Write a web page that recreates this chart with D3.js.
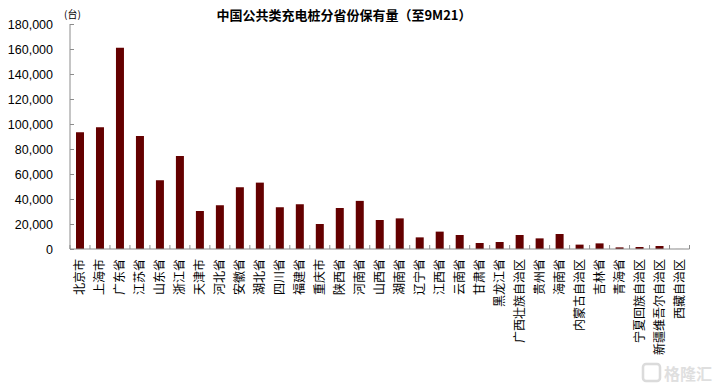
<!DOCTYPE html>
<html><head><meta charset="utf-8">
<script src="https://cdn.jsdelivr.net/npm/d3@7"></script>
<style>
html,body{margin:0;padding:0;background:#fff;}
svg{display:block;}
</style></head>
<body>
<script>
const categories = ["北京市","上海市","广东省","江苏省","山东省","浙江省","天津市","河北省","安徽省","湖北省","四川省","福建省","重庆市","陕西省","河南省","山西省","湖南省","辽宁省","江西省","云南省","甘肃省","黑龙江省","广西壮族自治区","贵州省","海南省","内蒙古自治区","吉林省","青海省","宁夏回族自治区","新疆维吾尔自治区","西藏自治区"];
const values = [93400,97400,161000,90400,55000,74400,30400,35000,49400,53100,33400,35800,20000,32800,38500,23200,24500,9300,13900,11200,4800,5600,11200,8500,12000,3500,4500,1300,1600,2400,30];
const yTicks = [0,20000,40000,60000,80000,100000,120000,140000,160000,180000];
const title = "中国公共类充电桩分省份保有量（至9M21）";
const unit = "(台)";

const W = 717, H = 392;
const svg = d3.select("body").append("svg").attr("width", W).attr("height", H);
const cjk = "'Noto Sans CJK SC','Microsoft YaHei',sans-serif";
const num = "'Liberation Sans',Arial,sans-serif";

const x = d3.scaleBand().domain(categories).range([70, 689.5]).paddingInner(0.6).paddingOuter(0.3);
const y = d3.scaleLinear().domain([0, 180000]).range([249, 24]);

// bars
svg.append("g").selectAll("rect").data(values).join("rect")
  .attr("x", (d,i) => x(categories[i]))
  .attr("y", d => y(d))
  .attr("width", x.bandwidth())
  .attr("height", d => y(0) - y(d))
  .attr("fill", "#640000");

// y axis
const ya = svg.append("g").attr("transform", "translate(70,0)")
  .call(d3.axisLeft(y).tickValues(yTicks).tickSize(-4).tickPadding(17).tickFormat(d3.format(",")));
ya.select(".domain").attr("stroke", "#8c8c8c").attr("d", "M0," + y(180000) + "V" + y(0));
ya.selectAll(".tick line").attr("stroke", "#8c8c8c");
ya.selectAll("text").attr("font-family", num).attr("font-size", 12.5).attr("fill", "#000");

// x axis
const xa = svg.append("g").attr("transform", "translate(0,249)");
xa.append("line").attr("x1", 70).attr("x2", 689.5).attr("y1", 0).attr("y2", 0).attr("stroke", "#8c8c8c");
const step = x.step();
const bounds = d3.range(categories.length + 1).map(i => x.range()[0] + x.paddingOuter()*0 + i * (x.range()[1]-x.range()[0]) / categories.length);
xa.selectAll("line.t").data(bounds).join("line").attr("class","t")
  .attr("x1", d => d).attr("x2", d => d).attr("y1", 0).attr("y2", -4).attr("stroke", "#8c8c8c");
xa.selectAll("text").data(categories).join("text")
  .attr("transform", d => "translate(" + (x(d) + x.bandwidth()/2) + ",10) rotate(-90)")
  .attr("text-anchor", "end")
  .attr("dy", "0.35em")
  .attr("font-family", cjk).attr("font-size", 12).attr("fill", "#000")
  .text(d => d);

// title & unit
svg.append("text").attr("x", 344).attr("y", 20).attr("text-anchor", "middle")
  .attr("font-family", cjk).attr("font-size", 13).attr("font-weight", "bold").attr("fill", "#000").text(title);
svg.append("text").attr("x", 64).attr("y", 18)
  .attr("font-family", cjk).attr("font-size", 10).attr("fill", "#000").text(unit);

// watermark
const wm = svg.append("g").attr("opacity", 0.9);
wm.append("rect").attr("x", 643).attr("y", 364).attr("width", 17).attr("height", 17).attr("rx", 3)
  .attr("fill", "none").attr("stroke", "#d8d8d8").attr("stroke-width", 2.5);
wm.append("text").attr("x", 664).attr("y", 380).attr("font-family", cjk).attr("font-size", 16)
  .attr("font-weight", "bold").attr("fill", "#dcdcdc").text("格隆汇");
</script>
</body></html>
